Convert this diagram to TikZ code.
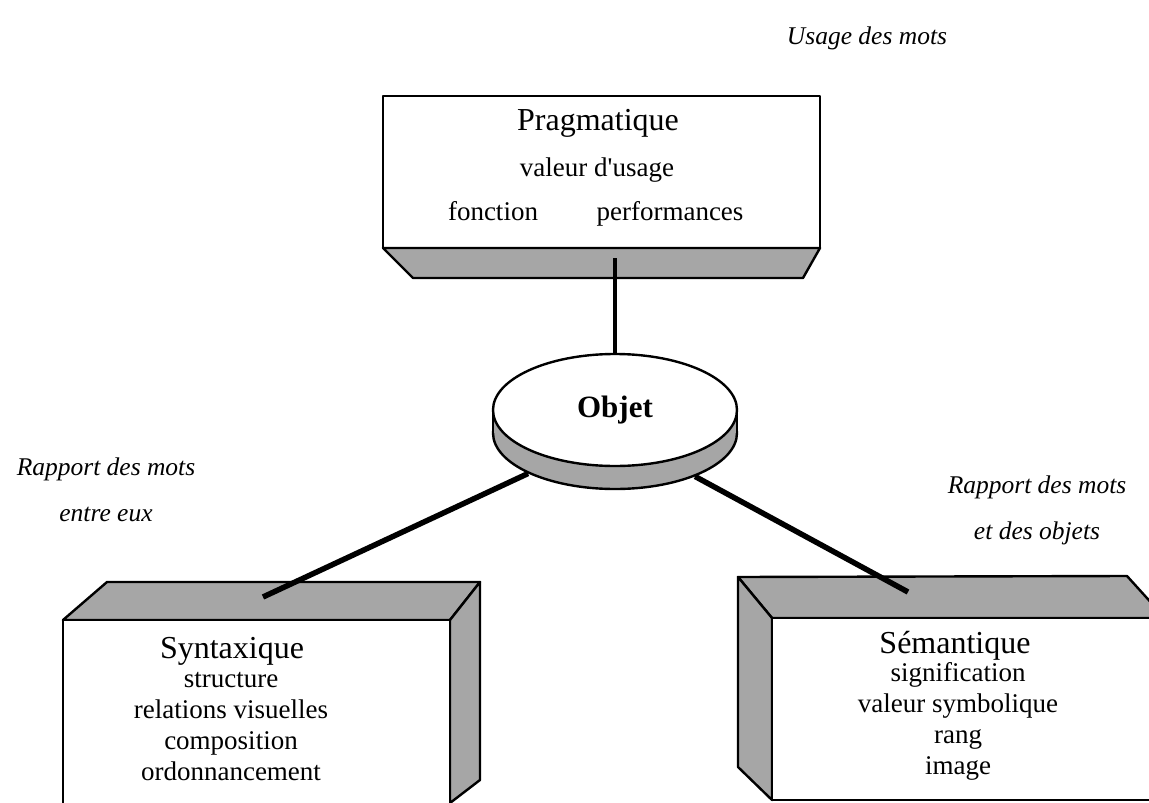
\documentclass[tikz,border=0pt]{standalone}
\usepackage{fontspec}
\setmainfont{Liberation Serif}
\usetikzlibrary{shapes.geometric}
\tikzset{
  ombre/.style={fill=black!35, draw=black, line width=2.4pt},
  face/.style={fill=white, draw=black, line width=2.4pt},
  lien/.style={line width=5.5pt, line cap=butt},
  titre/.style={font=\fontsize{32}{36}\selectfont, anchor=base},
  texte/.style={font=\fontsize{27}{31}\selectfont, align=center},
  note/.style={font=\fontsize{25.5}{46}\selectfont\itshape, align=center}
}
\begin{document}
\begin{tikzpicture}[x=1pt, y=-1pt, line cap=round, line join=round]
\useasboundingbox (0,0) rectangle (1149,803);
% --- Pragmatique (en haut) ---
\draw[face] (383,96) rectangle (820,248);
\draw[ombre] (383,248) -- (820,248) -- (803,278) -- (413,278) -- cycle;
\node[titre] (pragTitre) at (598,130) {Pragmatique};
\node[texte, anchor=base] (pragValeur) at (597,176) {valeur d\textquotesingle usage};
\node[texte, anchor=base] (pragFonction) at (493,220) {fonction};
\node[texte, anchor=base] (pragPerf) at (670,220) {performances};
\coordinate (pragPied) at (615,258);
% --- Syntaxique (en bas a gauche) ---
\draw[ombre] (63,620) -- (107,582) -- (480,582) -- (450,620) -- cycle;
\draw[ombre] (450,620) -- (480,582) -- (480,780) -- (450,803) -- cycle;
\draw[face] (63,810) -- (63,620) -- (450,620) -- (450,810);
\node[titre] (synTitre) at (232,658) {Syntaxique};
\node[texte] (synTexte) at (231,727) {structure\\relations visuelles\\composition\\ordonnancement};
\coordinate (synHaut) at (263,597);
% --- Semantique (en bas a droite) ---
\draw[ombre] (772,618) -- (738,577) -- (1127,576) -- (1165,618) -- cycle;
\draw[ombre] (738,577) -- (772,618) -- (772,800) -- (738,767) -- cycle;
\draw[face] (1160,618) -- (772,618) -- (772,800) -- (1160,800);
\node[titre] (semTitre) at (955,653) {Sémantique};
\node[texte] (semTexte) at (958,721) {signification\\valeur symbolique\\rang\\image};
\coordinate (semHaut) at (908,592);
% --- Objet (disque au centre) ---
\node[ellipse, ombre, minimum width=244pt, minimum height=112pt, inner sep=0pt] (objetBase) at (615,433) {};
\fill[black!35] (493,408) rectangle (737,433);
\draw[line width=2.4pt] (493,408) -- (493,433) (737,408) -- (737,433);
\node[ellipse, face, minimum width=244pt, minimum height=112pt, inner sep=0pt,
      font=\bfseries\fontsize{31}{34}\selectfont] (objet) at (615,410) {Objet};
% liens
\draw[lien, line width=4pt] (pragPied) -- (objet);
\draw[lien] (objetBase) -- (synHaut);
\draw[lien] (objetBase) -- (semHaut);
% --- annotations en italique ---
\node[note] (noteUsage) at (867,38) {Usage des mots};
\node[note] (noteEntre) at (106,490) {Rapport des mots\\entre eux};
\node[note] (noteObjets) at (1037,510) {Rapport des mots\\et des objets};
\end{tikzpicture}
\end{document}
